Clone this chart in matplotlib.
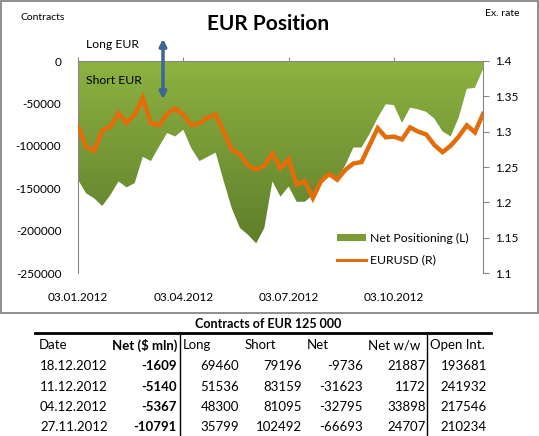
import numpy as np
import matplotlib.pyplot as plt
from matplotlib.colors import LinearSegmentedColormap
from matplotlib.patches import FancyArrowPatch, Rectangle
from matplotlib.lines import Line2D

plt.rcParams['font.family'] = ['Lato', 'DejaVu Sans']

# weekly data, 03.01.2012 .. 18.12.2012
date_labels = ['03.01.2012', '03.04.2012', '03.07.2012', '03.10.2012']
date_label_pos = [0, 13, 26, 39]

net_position = [-140000, -156000, -162000, -171000, -158000, -142000, -149000, -144000,
                -113000, -118000, -101000, -85000, -89000, -81000, -103000, -118000,
                -113000, -108000, -142000, -174000, -197000, -205000, -215000, -197000,
                -142000, -160000, -148000, -166000, -166000, -158000, -145000, -136000,
                -138000, -123000, -102000, -102000, -86000, -67000, -51000, -52000,
                -73000, -55000, -57000, -60000, -68000, -83000, -89000, -66693,
                -32795, -31623, -9736]

eurusd = [1.307, 1.279, 1.273, 1.302, 1.307, 1.326, 1.312, 1.324, 1.348, 1.312,
          1.309, 1.325, 1.333, 1.324, 1.309, 1.312, 1.320, 1.324, 1.300, 1.274,
          1.268, 1.252, 1.246, 1.252, 1.269, 1.248, 1.261, 1.225, 1.230, 1.206,
          1.230, 1.240, 1.232, 1.246, 1.255, 1.257, 1.281, 1.305, 1.292, 1.293,
          1.289, 1.306, 1.300, 1.296, 1.281, 1.271, 1.280, 1.293, 1.309, 1.299,
          1.325]

table_header = ['Date', 'Net ($ mln)', 'Long', 'Short', 'Net', 'Net w/w', 'Open Int.']
table_rows = [
    ['18.12.2012', '-1609', '69460', '79196', '-9736', '21887', '193681'],
    ['11.12.2012', '-5140', '51536', '83159', '-31623', '1172', '241932'],
    ['04.12.2012', '-5367', '48300', '81095', '-32795', '33898', '217546'],
    ['27.11.2012', '-10791', '35799', '102492', '-66693', '24707', '210234'],
]

W, H = 539, 436
fig = plt.figure(figsize=(W / 100, H / 100), dpi=100)


def fx(px):
    return px / W


def fy(py):
    return 1 - py / H


ax = fig.add_axes([fx(78), fy(273), fx(483) - fx(78), fy(61) - fy(273)])
x = np.arange(len(net_position))
net = np.array(net_position)

# gradient area
poly = ax.fill_between(x, 0, net, color='none', lw=0)
green = LinearSegmentedColormap.from_list('g', ['#8db341', '#5f7e2b'])
grad = np.linspace(0, 1, 256).reshape(-1, 1)
img = ax.imshow(grad, cmap=green, aspect='auto', extent=[0, 50, -215000, 0],
                origin='upper', zorder=1)
img.set_clip_path(poly.get_paths()[0], transform=ax.transData)

ax.set_xlim(0, 50)
ax.set_ylim(-250000, 0)
ax.set_yticks(np.arange(-250000, 1, 50000))
ax.set_yticklabels([str(v) for v in range(-250000, 1, 50000)], fontsize=8.5)
ax.set_xticks(date_label_pos)
ax.set_xticklabels(date_labels, fontsize=8.5)
ax.tick_params(axis='x', top=True, bottom=False, labeltop=False, labelbottom=True,
               direction='out', length=3, color='#888888', pad=11)
ax.tick_params(axis='y', length=0, pad=12)
for s in ['bottom', 'right']:
    ax.spines[s].set_visible(False)
ax.spines['top'].set_color('#888888')
ax.spines['left'].set_color('#888888')

ax2 = ax.twinx()
ax2.plot(x, eurusd, color='#e46c0a', lw=3.2, solid_joinstyle='miter', zorder=3)
ax2.set_ylim(1.1, 1.4)
ax2.set_yticks([1.1, 1.15, 1.2, 1.25, 1.3, 1.35, 1.4])
ax2.set_yticklabels(['1.1', '1.15', '1.2', '1.25', '1.3', '1.35', '1.4'], fontsize=8.5)
ax2.tick_params(axis='y', direction='out', length=4, color='#888888', pad=5)
for s in ['top', 'bottom', 'left']:
    ax2.spines[s].set_visible(False)
ax2.spines['right'].set_color('#888888')

# legend
legend_items = [Rectangle((0, 0), 1, 1, facecolor='#7a9c35', edgecolor='none'),
                Line2D([0], [0], color='#e46c0a', lw=2.2)]
fig.legend(legend_items, ['Net Positioning (L)', 'EURUSD (R)'],
           loc='upper left', bbox_to_anchor=(fx(326), fy(222)), frameon=False,
           fontsize=8.8, handlelength=2.4, handleheight=0.45, labelspacing=0.85,
           handletextpad=0.3)

# texts
fig.text(fx(268), fy(24), 'EUR Position', ha='center', va='center',
         fontsize=15, fontweight='bold')
fig.text(fx(43), fy(17), 'Contracts', ha='center', va='center', fontsize=7.5)
fig.text(fx(502), fy(13), 'Ex. rate', ha='center', va='center', fontsize=7.5)
fig.text(fx(86), fy(45), 'Long EUR', ha='left', va='center', fontsize=8.8)
fig.text(fx(86), fy(81), 'Short EUR', ha='left', va='center', fontsize=8.8)
fig.add_artist(FancyArrowPatch((fx(163), fy(36)), (fx(163), fy(102)),
                               transform=fig.transFigure, arrowstyle='<|-|>',
                               mutation_scale=10, color='#3e6596', lw=2.5))

# chart border
fig.add_artist(Rectangle((fx(1), fy(313)), fx(537), fy(1) - fy(313),
                         transform=fig.transFigure, fill=False,
                         edgecolor='#868686', lw=1.3))

# table
fig.text(fx(268), fy(324), 'Contracts of EUR 125 000', ha='center', va='center',
         fontsize=9, fontweight='bold')
fig.add_artist(Line2D([fx(35), fx(491)], [fy(333), fy(333)], color='black', lw=2,
                      transform=fig.transFigure))
for vx in [180, 427]:
    fig.add_artist(Line2D([fx(vx), fx(vx)], [fy(333), fy(436)], color='black', lw=1,
                          transform=fig.transFigure))

header_x = [39, 177, 183, 245, 307, 368, 430]
header_ha = ['left', 'right', 'left', 'left', 'left', 'left', 'left']
for txt, hx, ha in zip(table_header, header_x, header_ha):
    fig.text(fx(hx), fy(345), txt, ha=ha, va='center', fontsize=9.5,
             fontweight='bold' if txt.startswith('Net (') else 'normal')

value_x = [40, 177, 239, 302, 363, 426, 487]
row_y = [366, 387, 407, 427]
for row, ry in zip(table_rows, row_y):
    for j, (txt, vx) in enumerate(zip(row, value_x)):
        fig.text(fx(vx), fy(ry), txt, ha='left' if j == 0 else 'right', va='center',
                 fontsize=9.5, fontweight='bold' if j == 1 else 'normal')

fig.savefig('out.png', dpi=100)
